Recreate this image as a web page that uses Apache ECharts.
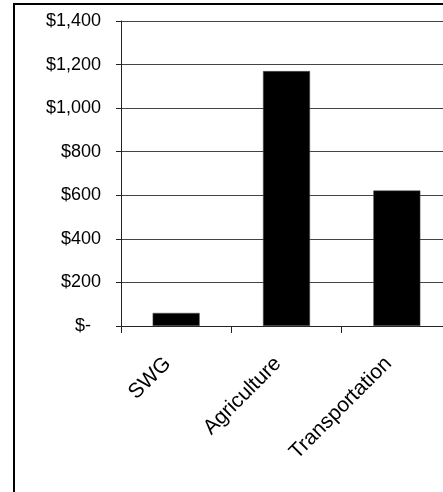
<!DOCTYPE html>
<html lang="en">
<head>
    <meta charset="UTF-8">
    <title>Spending by sector</title>
    <script src="https://cdn.jsdelivr.net/npm/echarts@6/dist/echarts.min.js"></script>
    <style>
        html, body { margin: 0; padding: 0; background: #fff; }
        #main { width: 443px; height: 492px; }
    </style>
</head>
<body>
    <div id="main"></div>
    <script>
        // data
        var categories = ['SWG', 'Agriculture', 'Transportation'];
        var values = [60, 1170, 622];

        var fontName = '"Liberation Sans", Arial, sans-serif';

        var option = {
            backgroundColor: '#fff',
            animation: false,
            graphic: [{
                type: 'rect',
                shape: { x: 14, y: 4, width: 460, height: 520 },
                style: { fill: 'none', stroke: '#000', lineWidth: 2 },
                z: 100
            }],
            grid: {
                left: 121,
                top: 21,
                width: 331,
                height: 305,
                outerBoundsMode: 'none',
                containLabel: false
            },
            xAxis: {
                type: 'category',
                data: categories,
                axisLine: { lineStyle: { color: '#222', width: 1 } },
                axisTick: { show: true, alignWithLabel: false, length: 7, lineStyle: { color: '#222' } },
                axisLabel: {
                    rotate: 45,
                    margin: 26,
                    padding: [0, 12, 0, 0],
                    color: '#000',
                    fontFamily: fontName,
                    fontSize: 21,
                    hideOverlap: false
                }
            },
            yAxis: {
                type: 'value',
                min: 0,
                max: 1400,
                interval: 200,
                axisLine: { show: true, lineStyle: { color: '#222', width: 1 } },
                axisTick: { show: true, inside: false, length: 5, lineStyle: { color: '#222' } },
                splitLine: { show: true, lineStyle: { color: '#444', width: 1 } },
                axisLabel: {
                    margin: 20,
                    color: '#000',
                    fontFamily: fontName,
                    fontSize: 18,
                    formatter: function (v) {
                        if (v === 0) return '$-  ';
                        return '$' + v.toLocaleString('en-US');
                    }
                }
            },
            series: [{
                type: 'bar',
                data: values,
                barWidth: 47,
                itemStyle: { color: '#000', borderColor: '#555', borderWidth: 0.5 }
            }]
        };

        var myChart = echarts.init(document.getElementById('main'));
        myChart.setOption(option);
    </script>
</body>
</html>
